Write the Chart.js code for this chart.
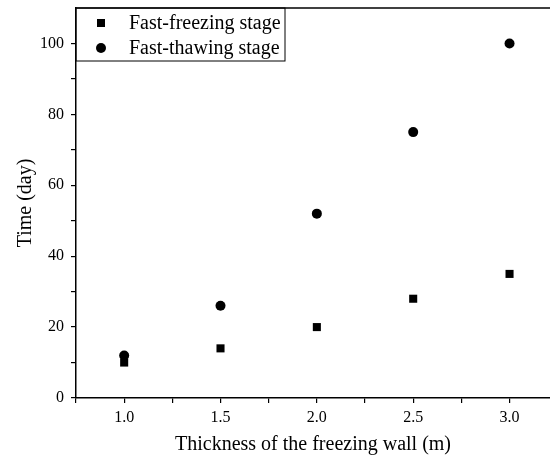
<!DOCTYPE html>
<html>
<head>
<meta charset="utf-8">
<script src="https://cdn.jsdelivr.net/npm/chart.js@4"></script>
<style>
  html, body { margin: 0; padding: 0; background: #fff; }
  #wrap { width: 550px; height: 461px; }
</style>
</head>
<body>
<div id="wrap"><canvas id="chart" width="550" height="461"></canvas></div>
<script>
const thickness = [1.0, 1.5, 2.0, 2.5, 3.0];
const freezingDays = [10, 14, 20, 28, 35];
const thawingDays = [12, 26, 52, 75, 100];
const seriesNames = ["Fast-freezing stage", "Fast-thawing stage"];
const xTicks = [0.75, 1.0, 1.25, 1.5, 1.75, 2.0, 2.25, 2.5, 2.75, 3.0];
const yTicks = [0, 10, 20, 30, 40, 50, 60, 70, 80, 90, 100];

const serif = "'Liberation Serif', 'Times New Roman', serif";

// legend box drawn inside the plot, plus the top frame line
const frameAndLegend = {
  id: "frameAndLegend",
  afterDraw(chart) {
    const { ctx, chartArea } = chart;
    ctx.save();
    ctx.strokeStyle = "#000";
    ctx.lineWidth = 1.5;
    ctx.beginPath();
    ctx.moveTo(chartArea.left, chartArea.top);
    ctx.lineTo(chartArea.right, chartArea.top);
    ctx.stroke();

    const x0 = chartArea.left, y0 = chartArea.top;
    ctx.lineWidth = 1;
    ctx.strokeRect(x0, y0, 209, 53);
    ctx.fillStyle = "#000";
    ctx.font = "20px " + serif;
    ctx.textBaseline = "middle";
    chart.data.datasets.forEach((ds, i) => {
      const cy = y0 + 15 + i * 25;
      if (ds.pointStyle === "rect") {
        ctx.fillRect(x0 + 21, cy - 4, 8, 8);
      } else {
        ctx.beginPath();
        ctx.arc(x0 + 25, cy, 5, 0, Math.PI * 2);
        ctx.fill();
      }
      ctx.fillText(ds.label, x0 + 53, cy + 1);
    });
    ctx.restore();
  }
};

new Chart(document.getElementById("chart"), {
  type: "scatter",
  data: {
    datasets: [{
      label: seriesNames[0],
      data: thickness.map((x, i) => ({ x, y: freezingDays[i] })),
      pointStyle: "rect",
      pointRadius: 5.7,
      backgroundColor: "#000",
      borderColor: "#000",
      borderWidth: 0
    }, {
      label: seriesNames[1],
      data: thickness.map((x, i) => ({ x, y: thawingDays[i] })),
      pointStyle: "circle",
      pointRadius: 5,
      backgroundColor: "#000",
      borderColor: "#000",
      borderWidth: 0
    }]
  },
  options: {
    responsive: false,
    animation: false,
    layout: { autoPadding: false, padding: { top: 8, right: 0, left: 0, bottom: 0 } },
    plugins: {
      legend: { display: false },
      tooltip: { enabled: false }
    },
    scales: {
      x: {
        type: "linear",
        min: 0.75,
        max: 3.21,
        afterBuildTicks: (s) => { s.ticks = xTicks.map(v => ({ value: v })); },
        afterFit: (s) => { s.height = 63; s.paddingLeft = 0; s.paddingRight = 0; },
        border: { display: true, color: "#000", width: 1.5 },
        grid: { drawOnChartArea: false, drawTicks: true, tickLength: 5, color: "#000", lineWidth: 1.2 },
        ticks: {
          color: "#000",
          font: { family: serif, size: 16 },
          padding: 5,
          maxRotation: 0,
          callback: (v) => (Math.abs(v * 2 - Math.round(v * 2)) < 1e-6 ? v.toFixed(1) : "")
        },
        title: {
          display: true,
          text: "Thickness of the freezing wall (m)",
          color: "#000",
          font: { family: serif, size: 20 },
          padding: { top: 4, bottom: 4 }
        }
      },
      y: {
        min: 0,
        max: 110,
        afterBuildTicks: (s) => { s.ticks = yTicks.map(v => ({ value: v })); },
        afterFit: (s) => { s.width = 76; s.paddingTop = 0; s.paddingBottom = 0; },
        border: { display: true, color: "#000", width: 1.5 },
        grid: { drawOnChartArea: false, drawTicks: true, tickLength: 5, color: "#000", lineWidth: 1.2 },
        ticks: {
          color: "#000",
          font: { family: serif, size: 16 },
          padding: 7,
          callback: (v) => (v % 20 === 0 ? String(v) : "")
        },
        title: {
          display: true,
          text: "Time (day)",
          color: "#000",
          font: { family: serif, size: 20 },
          padding: { top: 14, bottom: 4 }
        }
      }
    }
  },
  plugins: [frameAndLegend]
});
</script>
</body>
</html>
